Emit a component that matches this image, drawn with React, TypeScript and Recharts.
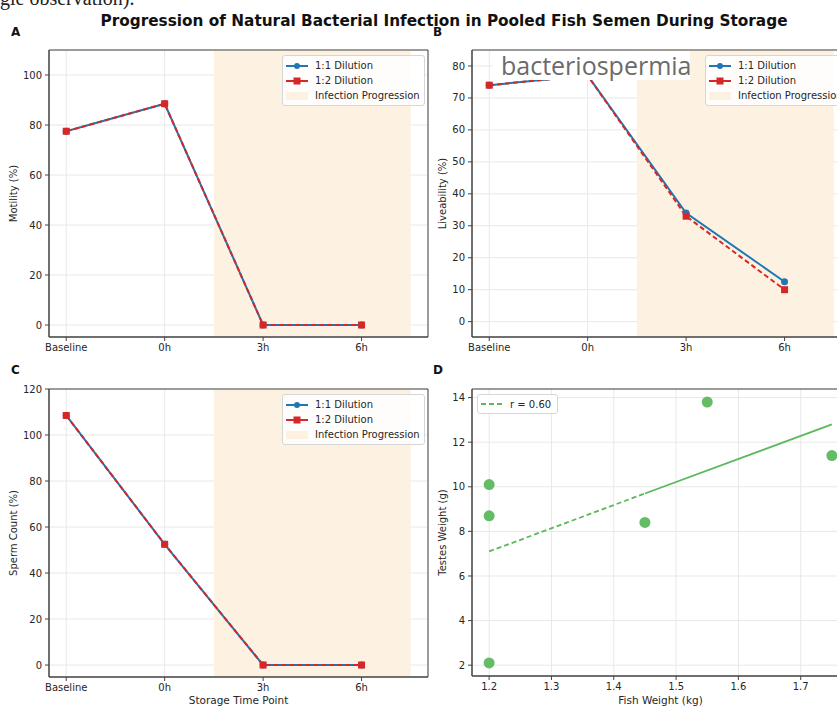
import React from 'react';
import {
  LineChart,
  Line,
  ComposedChart,
  Scatter,
  XAxis,
  YAxis,
  CartesianGrid,
  ReferenceArea,
  Legend,
} from 'recharts';

// storage time points (category index -> label)
const timeLabels = ['Baseline', '0h', '3h', '6h'];

const motility11 = [77.5, 88.5, 0, 0];
const motility12 = [77.5, 88.5, 0, 0];

const liveability11 = [74, 77, 34, 12.5];
const liveability12 = [74, 77, 33, 10];

const spermCount11 = [108.5, 52.5, 0, 0];
const spermCount12 = [108.5, 52.5, 0, 0];

// panel D
const fishWeight = [1.2, 1.2, 1.2, 1.45, 1.55, 1.75];
const testesWeight = [10.1, 8.7, 2.1, 8.4, 13.8, 11.4];
const trendX = [1.2, 1.45, 1.75];
const trendY = [7.1, 9.7, 12.8];

const FONT = '"DejaVu Sans", Verdana, sans-serif';
const BLUE = '#1f77b4';
const RED = '#d62728';
const GREEN = '#5cb85c';
const SHADE = '#fdf2e2';
const GRID = '#e8e8e8';
const SPINE = '#444';
const TEXT = '#262626';

const tickStyle = { fontSize: 10, fill: TEXT, fontFamily: FONT };

const buildRows = (a: number[], b: number[]) =>
  timeLabels.map((label, i) => ({ x: i, label, s1: a[i], s2: b[i] }));

const SquareDot = (props: any) => {
  const { cx, cy, index } = props;
  if (cx == null || cy == null) return <g key={`sq-${index}`} />;
  return <rect key={`sq-${index}`} x={cx - 3.5} y={cy - 3.5} width={7} height={7} fill={RED} />;
};

const LegendHandle = ({ kind }: { kind: 'blue' | 'red' | 'shade' }) => {
  if (kind === 'shade') {
    return (
      <svg width={22} height={10}>
        <rect x={0} y={1} width={22} height={8} fill={SHADE} />
      </svg>
    );
  }
  const color = kind === 'blue' ? BLUE : RED;
  return (
    <svg width={22} height={10}>
      <line x1={0} x2={22} y1={5} y2={5} stroke={color} strokeWidth={2} />
      {kind === 'blue' ? (
        <circle cx={11} cy={5} r={3} fill={color} />
      ) : (
        <rect x={7.5} y={1.5} width={7} height={7} fill={color} />
      )}
    </svg>
  );
};

const DilutionLegend = () => (
  <div
    style={{
      background: 'rgba(255,255,255,0.85)',
      border: '1px solid #d6d6d6',
      borderRadius: 3,
      padding: '2px 4px 2px 3px',
      fontFamily: FONT,
      fontSize: 10,
      color: TEXT,
      lineHeight: '15px',
      whiteSpace: 'nowrap',
    }}
  >
    {[
      ['blue', '1:1 Dilution'],
      ['red', '1:2 Dilution'],
      ['shade', 'Infection Progression'],
    ].map(([k, t]) => (
      <div key={t} style={{ display: 'flex', alignItems: 'center', height: 15 }}>
        <LegendHandle kind={k as any} />
        <span style={{ marginLeft: 7 }}>{t}</span>
      </div>
    ))}
  </div>
);

interface TimePanelProps {
  left: number;
  top: number;
  height: number;
  marginTop: number;
  xHeight: number;
  rows: any[];
  yDomain: [number, number];
  yTicks: number[];
  yLabel: string;
  yLabelDx: number;
  xLabel?: string;
  legendTop: number;
}

const TimePanel = ({
  left,
  top,
  height,
  marginTop,
  xHeight,
  rows,
  yDomain,
  yTicks,
  yLabel,
  yLabelDx,
  xLabel,
  legendTop,
}: TimePanelProps) => (
  <div style={{ position: 'absolute', left, top }}>
    <LineChart
      width={440}
      height={height}
      data={rows}
      margin={{ top: marginTop, right: 12, left: 0, bottom: 0 }}
    >
      <ReferenceArea x1={1.5} x2={3.5} fill={SHADE} fillOpacity={1} stroke="none" ifOverflow="hidden" />
      <CartesianGrid stroke={GRID} strokeWidth={1} />
      <XAxis
        dataKey="x"
        type="number"
        domain={[-0.175, 3.675]}
        ticks={[0, 1, 2, 3]}
        allowDataOverflow
        tickFormatter={(v: number) => timeLabels[v]}
        tick={tickStyle}
        tickSize={4}
        tickMargin={3}
        height={xHeight}
        axisLine={{ stroke: SPINE }}
        tickLine={{ stroke: SPINE }}
        label={
          xLabel
            ? { value: xLabel, position: 'insideBottom', offset: 6, style: { ...tickStyle, fontSize: 10.5 } }
            : undefined
        }
      />
      <YAxis
        type="number"
        domain={yDomain}
        ticks={yTicks}
        allowDataOverflow
        width={49}
        tick={tickStyle}
        tickSize={4}
        tickMargin={3}
        axisLine={{ stroke: SPINE }}
        tickLine={{ stroke: SPINE }}
        label={{
          value: yLabel,
          angle: -90,
          position: 'insideLeft',
          dx: yLabelDx,
          style: { ...tickStyle, textAnchor: 'middle' },
        }}
      />
      <ReferenceArea
        x1={-0.175}
        x2={3.675}
        y1={yDomain[0]}
        y2={yDomain[1]}
        fill="none"
        stroke={SPINE}
        strokeWidth={1}
      />
      <Line
        dataKey="s1"
        stroke={BLUE}
        strokeWidth={2}
        dot={{ r: 3.5, fill: BLUE, stroke: BLUE, strokeWidth: 0 }}
        isAnimationActive={false}
      />
      <Line
        dataKey="s2"
        stroke={RED}
        strokeWidth={2}
        strokeDasharray="5 3"
        dot={SquareDot}
        isAnimationActive={false}
      />
      <Legend
        layout="vertical"
        align="center"
        verticalAlign="middle"
        wrapperStyle={{ left: 282, top: legendTop, width: 'auto' }}
        content={() => <DilutionLegend />}
      />
    </LineChart>
  </div>
);

const scatterRows = fishWeight.map((w, i) => ({ x: w, y: testesWeight[i] }));
const trendDashed = trendX.slice(0, 2).map((x, i) => ({ x, y: trendY[i] }));
const trendSolid = trendX.slice(1).map((x, i) => ({ x, y: trendY[i + 1] }));

const ScatterPanel = () => (
  <div style={{ position: 'absolute', left: 423, top: 380 }}>
    <ComposedChart width={438} height={330} margin={{ top: 9, right: 12, left: 0, bottom: 0 }}>
      <CartesianGrid stroke={GRID} strokeWidth={1} />
      <XAxis
        dataKey="x"
        type="number"
        domain={[1.1725, 1.7775]}
        ticks={[1.2, 1.3, 1.4, 1.5, 1.6, 1.7]}
        allowDataOverflow
        tickFormatter={(v: number) => v.toFixed(1)}
        tick={tickStyle}
        tickSize={4}
        tickMargin={3}
        height={34}
        axisLine={{ stroke: SPINE }}
        tickLine={{ stroke: SPINE }}
        label={{ value: 'Fish Weight (kg)', position: 'insideBottom', offset: 6, style: { ...tickStyle, fontSize: 10.5 } }}
      />
      <YAxis
        dataKey="y"
        type="number"
        domain={[1.515, 14.385]}
        ticks={[2, 4, 6, 8, 10, 12, 14]}
        allowDataOverflow
        width={49}
        tick={tickStyle}
        tickSize={4}
        tickMargin={3}
        axisLine={{ stroke: SPINE }}
        tickLine={{ stroke: SPINE }}
        label={{
          value: 'Testes Weight (g)',
          angle: -90,
          position: 'insideLeft',
          dx: 14,
          style: { ...tickStyle, textAnchor: 'middle' },
        }}
      />
      <ReferenceArea x1={1.1725} x2={1.7775} y1={1.515} y2={14.385} fill="none" stroke={SPINE} strokeWidth={1} />
      <Line
        data={trendDashed}
        dataKey="y"
        stroke={GREEN}
        strokeWidth={1.8}
        strokeDasharray="5 3"
        dot={false}
        isAnimationActive={false}
      />
      <Line data={trendSolid} dataKey="y" stroke={GREEN} strokeWidth={1.8} dot={false} isAnimationActive={false} />
      <Scatter
        data={scatterRows}
        fill={GREEN}
        shape={(p: any) => <circle cx={p.cx} cy={p.cy} r={5.5} fill={GREEN} fillOpacity={0.95} />}
        isAnimationActive={false}
      />
      <Legend
        layout="vertical"
        align="center"
        verticalAlign="middle"
        wrapperStyle={{ left: 54, top: 14, width: 'auto' }}
        content={() => (
          <div
            style={{
              background: 'rgba(255,255,255,0.85)',
              border: '1px solid #d6d6d6',
              borderRadius: 3,
              padding: '1px 6px 1px 3px',
              fontFamily: FONT,
              fontSize: 10,
              color: TEXT,
              display: 'flex',
              alignItems: 'center',
              height: 16,
              whiteSpace: 'nowrap',
            }}
          >
            <svg width={22} height={10}>
              <line x1={0} x2={22} y1={5} y2={5} stroke={GREEN} strokeWidth={1.8} strokeDasharray="5 3" />
            </svg>
            <span style={{ marginLeft: 7 }}>r = 0.60</span>
          </div>
        )}
      />
    </ComposedChart>
  </div>
);

const panelLetter = (text: string, left: number, top: number) => (
  <div
    style={{
      position: 'absolute',
      left,
      top,
      fontFamily: FONT,
      fontWeight: 'bold',
      fontSize: 12,
      color: '#111',
    }}
  >
    {text}
  </div>
);

export default function App() {
  return (
    <div
      style={{
        position: 'absolute',
        left: 0,
        top: 0,
        width: 837,
        height: 707,
        overflow: 'hidden',
        background: '#fff',
      }}
    >
      <div
        style={{
          position: 'absolute',
          left: 0,
          top: -13,
          fontFamily: 'serif',
          fontSize: 20,
          color: '#222',
          whiteSpace: 'nowrap',
        }}
      >
        gle observation).
      </div>
      <div
        style={{
          position: 'absolute',
          left: 0,
          top: 12,
          width: 888,
          textAlign: 'center',
          fontFamily: FONT,
          fontWeight: 'bold',
          fontSize: 15.3,
          color: '#111',
          whiteSpace: 'nowrap',
        }}
      >
        Progression of Natural Bacterial Infection in Pooled Fish Semen During Storage
      </div>
      {panelLetter('A', 11, 25)}
      {panelLetter('B', 433, 25)}
      {panelLetter('C', 11, 363)}
      {panelLetter('D', 433, 363)}

      <TimePanel
        left={0}
        top={40}
        height={320}
        marginTop={10}
        xHeight={23}
        rows={buildRows(motility11, motility12)}
        yDomain={[-4.8, 110]}
        yTicks={[0, 20, 40, 60, 80, 100]}
        yLabel="Motility (%)"
        yLabelDx={8}
        legendTop={15}
      />
      <TimePanel
        left={423}
        top={40}
        height={320}
        marginTop={10}
        xHeight={23}
        rows={buildRows(liveability11, liveability12)}
        yDomain={[-4.8, 85]}
        yTicks={[0, 10, 20, 30, 40, 50, 60, 70, 80]}
        yLabel="Liveability (%)"
        yLabelDx={14}
        legendTop={15}
      />
      <TimePanel
        left={0}
        top={380}
        height={330}
        marginTop={9}
        xHeight={33}
        rows={buildRows(spermCount11, spermCount12)}
        yDomain={[-5.2, 120]}
        yTicks={[0, 20, 40, 60, 80, 100, 120]}
        yLabel="Sperm Count (%)"
        yLabelDx={8}
        xLabel="Storage Time Point"
        legendTop={14}
      />
      <ScatterPanel />

      {/* text box pasted over panel B */}
      <div
        style={{
          position: 'absolute',
          left: 493,
          top: 51,
          width: 197,
          height: 29,
          background: '#fff',
          fontFamily: '"Open Sans", sans-serif',
          fontSize: 25,
          lineHeight: '29px',
          color: '#6b6b6b',
          paddingLeft: 8,
          boxSizing: 'border-box',
          whiteSpace: 'nowrap',
        }}
      >
        bacteriospermia
      </div>
    </div>
  );
}
